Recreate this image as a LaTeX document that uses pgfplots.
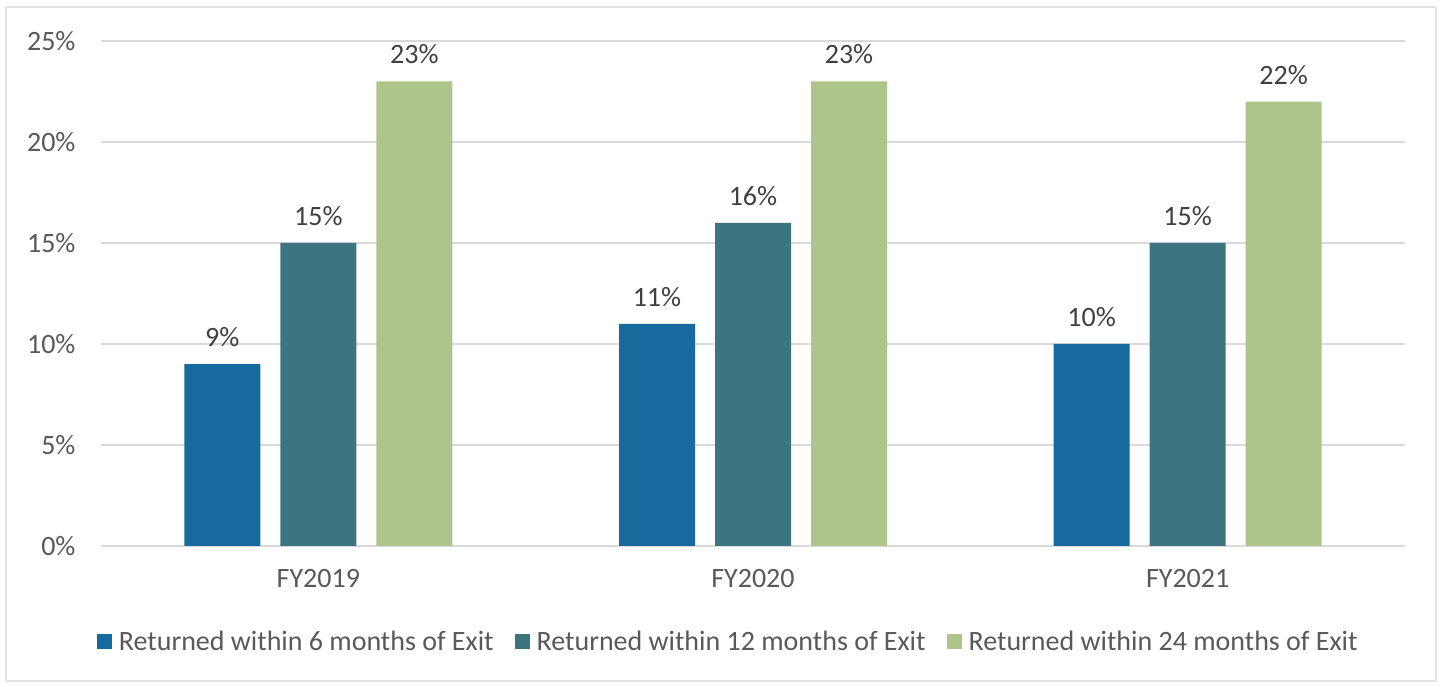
\documentclass[border=0pt]{standalone}
\usepackage{fontspec}
\setmainfont{Carlito}
\usepackage{pgfplots}
\pgfplotsset{compat=1.18}
\definecolor{cblue}{HTML}{176A9E}
\definecolor{cteal}{HTML}{3C7580}
\definecolor{cgreen}{HTML}{ADC58A}
\definecolor{gridgray}{HTML}{D9D9D9}
\definecolor{tickgray}{HTML}{595959}
\definecolor{labgray}{HTML}{404040}
\definecolor{framegray}{HTML}{E3E3E3}
\begin{document}
\begin{tikzpicture}[x=1pt,y=1pt]
\useasboundingbox (0,0) rectangle (1442,687);
\fill[white] (0,0) rectangle (1442,687);
\draw[color=framegray, line width=2pt] (6,6) rectangle (1436,680);
\begin{axis}[
  at={(101pt,141pt)}, anchor=south west,
  scale only axis, width=1304pt, height=505pt,
  xmin=-0.5, xmax=2.5, ymin=0, ymax=25,
  axis line style={draw=none},
  major tick length=0pt,
  ymajorgrids, grid style={line width=2pt, color=gridgray},
  xtick={0,1,2}, xticklabels={FY2019,FY2020,FY2021},
  ytick={0,5,10,15,20,25}, yticklabels={0\%,5\%,10\%,15\%,20\%,25\%},
  tick label style={font=\fontsize{28}{32}\selectfont, text=tickgray},
  yticklabel style={xshift=-22pt},
  xticklabel style={yshift=-20pt},
  ybar, bar width=76pt,
  /pgf/number format/assume math mode=true,
  nodes near coords={\pgfmathprintnumber{\pgfplotspointmeta}\%},
  nodes near coords style={font=\fontsize{28}{32}\selectfont, text=labgray, anchor=south, inner sep=0pt, yshift=17pt},
  legend columns=3,
  legend style={at={(0.481,-0.19)}, anchor=center, draw=none, fill=none,
    font=\fontsize{28}{32}\selectfont, text=tickgray,
    /tikz/every even column/.append style={column sep=19pt}},
  legend cell align=left,
  legend image code/.code={\path (0pt,0pt) (20pt,0pt); \fill[#1] (0pt,-7.5pt) rectangle (15pt,7.5pt);},
]
\addplot[fill=cblue, draw=none, bar shift=-96pt] coordinates {(0,9) (1,11) (2,10)};
\addplot[fill=cteal, draw=none, bar shift=0pt] coordinates {(0,15) (1,16) (2,15)};
\addplot[fill=cgreen, draw=none, bar shift=96pt] coordinates {(0,23) (1,23) (2,22)};
\legend{Returned within 6 months of Exit, Returned within 12 months of Exit, Returned within 24 months of Exit}
\end{axis}
\end{tikzpicture}
\end{document}
